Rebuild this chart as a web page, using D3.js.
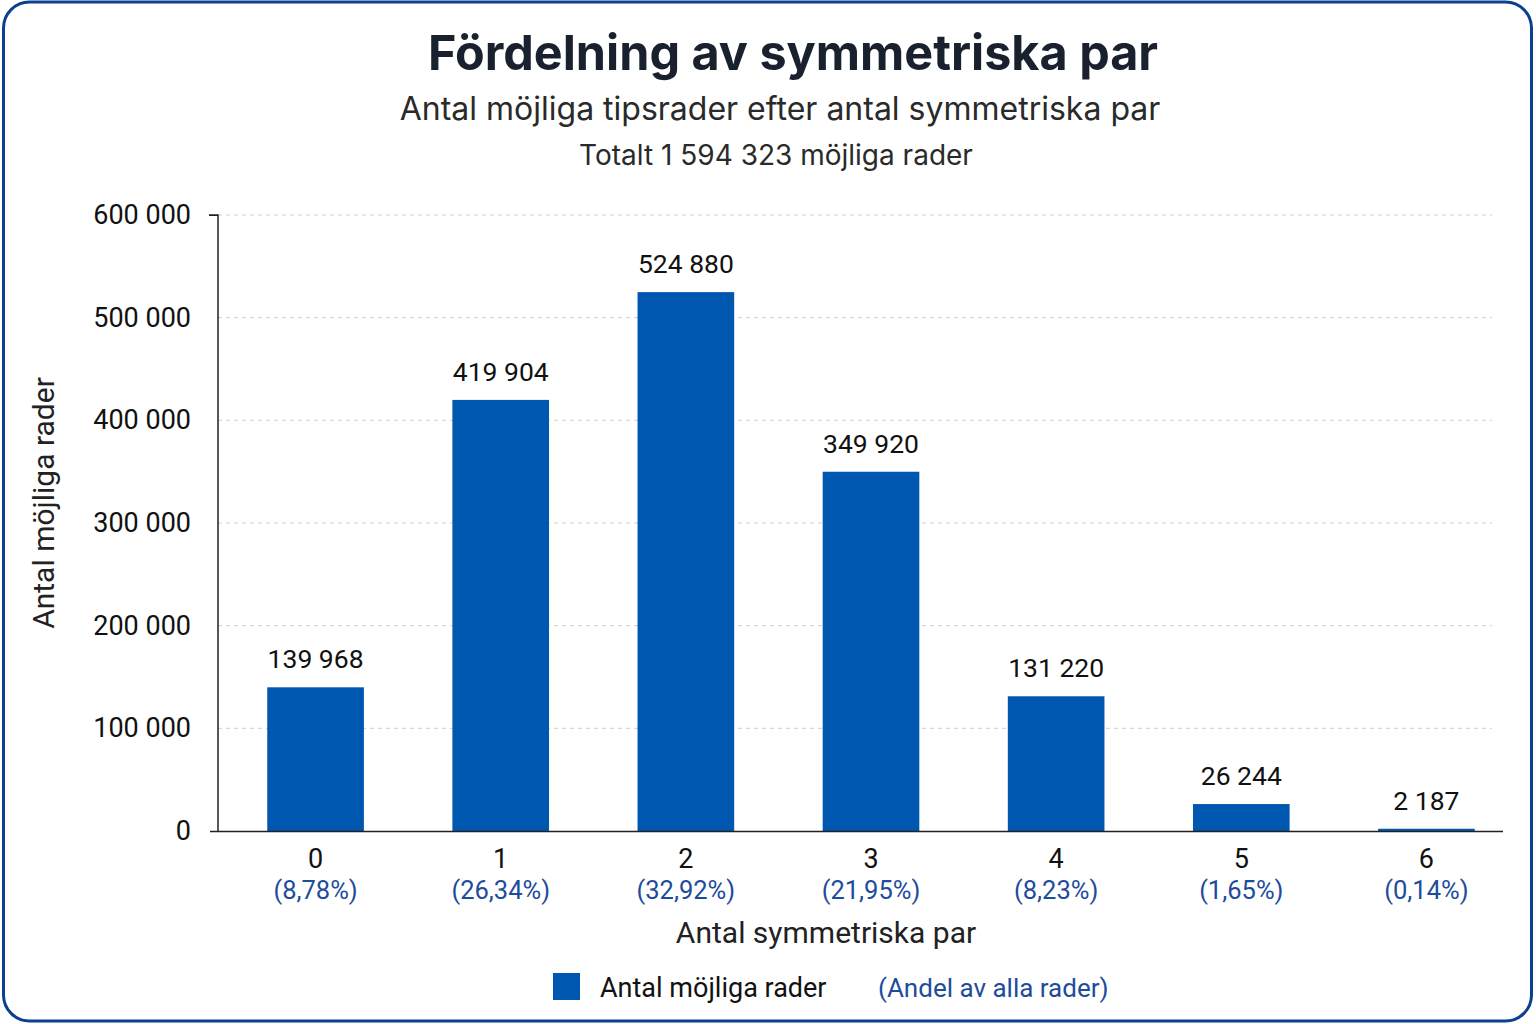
<!DOCTYPE html>
<html>
<head>
<meta charset="utf-8">
<script src="https://cdn.jsdelivr.net/npm/d3@7"></script>
<style>
body { margin: 0; background: #fff; }
text { font-family: Roboto, "Noto Sans", sans-serif; }
.grid line { stroke: #cfcfcf; stroke-dasharray: 4,4; }
</style>
</head>
<body>
<script>
// data
var categories = ["0", "1", "2", "3", "4", "5", "6"];
var counts = [139968, 419904, 524880, 349920, 131220, 26244, 2187];
var shares = ["8,78%", "26,34%", "32,92%", "21,95%", "8,23%", "1,65%", "0,14%"];
var yTicks = [0, 100000, 200000, 300000, 400000, 500000, 600000];

var width = 1536, height = 1024;
var barColor = "#0057b0", pctColor = "#1e4c9c";

var svg = d3.select("body").append("svg")
    .attr("width", width)
    .attr("height", height);

// frame
svg.append("rect")
    .attr("x", 3.5).attr("y", 2).attr("width", 1528).attr("height", 1019)
    .attr("rx", 26).attr("fill", "#fff")
    .attr("stroke", "#0c3f8f").attr("stroke-width", 3);

// titles
svg.append("text").attr("x", 793).attr("y", 70).attr("text-anchor", "middle")
    .style("font-family", "Inter, Roboto, sans-serif").style("font-weight", 700)
    .style("font-size", "48.5px").attr("fill", "#18212d")
    .text("Fördelning av symmetriska par");
svg.append("text").attr("x", 780).attr("y", 120).attr("text-anchor", "middle")
    .style("font-family", "Inter, Roboto, sans-serif")
    .style("font-size", "32px").attr("fill", "#2a2a2a")
    .text("Antal möjliga tipsrader efter antal symmetriska par");
svg.append("text").attr("x", 776).attr("y", 165).attr("text-anchor", "middle")
    .style("font-family", "Inter, Roboto, sans-serif")
    .style("font-size", "28px").attr("fill", "#2a2a2a")
    .text("Totalt 1 594 323 möjliga rader");

var x = d3.scaleBand().domain(categories).range([223, 1519])
    .paddingInner(0.478).paddingOuter(0.239);
var y = d3.scaleLinear().domain([0, 600000]).range([831, 215]);

var fmt = function(v) { return d3.format(",")(v).replace(/,/g, " "); };

// gridlines
svg.append("g").attr("class", "grid")
    .selectAll("line").data(yTicks.slice(1)).enter().append("line")
    .attr("x1", 218).attr("x2", 1492)
    .attr("y1", function(d) { return y(d); })
    .attr("y2", function(d) { return y(d); });

// y axis
var yAxis = svg.append("g").attr("transform", "translate(218,0)")
    .call(d3.axisLeft(y).tickValues(yTicks).tickFormat(fmt).tickSize(9).tickPadding(18));
yAxis.select(".domain").attr("stroke", "#222").attr("stroke-width", 1.5).attr("d", "M-9,215H0V831");
yAxis.selectAll(".tick line").attr("stroke", function(d) { return d === 600000 ? "#222" : "none"; });
yAxis.selectAll(".tick text").style("font-size", "27px").attr("fill", "#111");

// bars
svg.append("g").selectAll("rect").data(counts).enter().append("rect")
    .attr("x", function(d, i) { return x(categories[i]); })
    .attr("width", x.bandwidth())
    .attr("y", function(d) { return y(d); })
    .attr("height", function(d) { return y(0) - y(d); })
    .attr("fill", barColor);

// value labels
svg.append("g").selectAll("text").data(counts).enter().append("text")
    .attr("x", function(d, i) { return x(categories[i]) + x.bandwidth() / 2; })
    .attr("y", function(d) { return y(d) - 19; })
    .attr("text-anchor", "middle")
    .style("font-size", "26.5px").attr("fill", "#111")
    .text(fmt);

// x baseline
svg.append("line").attr("x1", 210).attr("x2", 1503).attr("y1", 831.5).attr("y2", 831.5)
    .attr("stroke", "#222").attr("stroke-width", 1.5);

// x labels
var xl = svg.append("g").selectAll("g").data(categories).enter().append("g")
    .attr("transform", function(d) { return "translate(" + (x(d) + x.bandwidth() / 2) + ",0)"; });
xl.append("text").attr("y", 868).attr("text-anchor", "middle")
    .style("font-size", "27px").attr("fill", "#111").text(function(d) { return d; });
xl.append("text").attr("y", 899).attr("text-anchor", "middle")
    .style("font-size", "25.5px").attr("fill", pctColor)
    .text(function(d, i) { return "(" + shares[i] + ")"; });

// axis titles
svg.append("text").attr("x", 826).attr("y", 943).attr("text-anchor", "middle")
    .style("font-size", "30px").attr("fill", "#222").text("Antal symmetriska par");
svg.append("text").attr("transform", "translate(54,503) rotate(-90)").attr("text-anchor", "middle")
    .style("font-size", "30px").attr("fill", "#222").text("Antal möjliga rader");

// legend
svg.append("rect").attr("x", 553).attr("y", 973).attr("width", 27).attr("height", 27).attr("fill", barColor);
svg.append("text").attr("x", 600).attr("y", 997)
    .style("font-size", "27px").attr("fill", "#111").text("Antal möjliga rader");
svg.append("text").attr("x", 878).attr("y", 997)
    .style("font-size", "26px").attr("fill", pctColor).text("(Andel av alla rader)");
</script>
</body>
</html>
